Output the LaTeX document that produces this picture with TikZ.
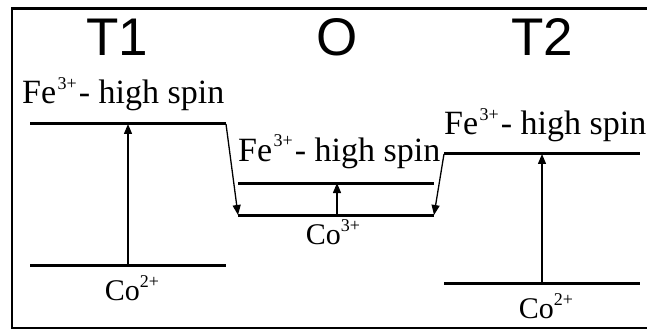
\documentclass[tikz,border=0pt]{standalone}
\usepackage{fontspec}
\setmainfont{Liberation Serif}
\newfontfamily\titlefont{Liberation Sans}
\usetikzlibrary{arrows.meta}
\newcommand{\supr}[1]{\raisebox{0.42em}{\fontsize{18}{18}\selectfont #1}}
\tikzset{
  level/.style={line width=3pt},
  trans/.style={line width=1.3pt,-{Triangle[length=10pt,width=8pt]}},
  title/.style={font=\titlefont\fontsize{53}{53}\selectfont,anchor=base,inner sep=0pt},
  felab/.style={font=\fontsize{34}{34}\selectfont,anchor=base west,inner sep=0pt},
  colab/.style={font=\fontsize{30}{30}\selectfont,anchor=base,inner sep=0pt}
}
\begin{document}
\begin{tikzpicture}[x=1pt,y=-1pt]
\useasboundingbox (0,0) rectangle (647,331);
\fill[white] (0,0) rectangle (647,331);
\draw[line width=2.5pt] (660,8.5) -- (12,8.5) -- (12,328) -- (660,328);
% titles
\node[title] (t1) at (117,56) {T1};
\node[title] (o) at (337,56) {O};
\node[title] (t2) at (542,56) {T2};
% levels
\coordinate (a1) at (30,124); \coordinate (a2) at (226,124);
\coordinate (b1) at (30,265); \coordinate (b2) at (226,265);
\coordinate (c1) at (238,183); \coordinate (c2) at (434,183);
\coordinate (d1) at (238,215); \coordinate (d2) at (434,215);
\coordinate (e1) at (444,154); \coordinate (e2) at (640,154);
\coordinate (f1) at (444,283); \coordinate (f2) at (640,283);
\draw[level] (a1) -- (a2);
\draw[level] (b1) -- (b2);
\draw[level] (c1) -- (c2);
\draw[level] (d1) -- (d2);
\draw[level] (e1) -- (e2);
\draw[level] (f1) -- (f2);
% transition points
\coordinate (ab0) at (128,265); \coordinate (ab1) at (128,124);
\coordinate (cd0) at (337,215); \coordinate (cd1) at (337,183);
\coordinate (ef0) at (542,283); \coordinate (ef1) at (542,154);
\draw[trans] (ab0) -- (ab1);
\draw[trans] (cd0) -- (cd1);
\draw[trans] (ef0) -- (ef1);
\draw[trans] (a2) -- (d1);
\draw[trans] (e1) -- (d2);
% labels
\node[felab] (fe1) at (22,104) {Fe\kern1.5pt\supr{3+}\kern2pt- high spin};
\node[felab] (fe2) at (238,161) {Fe\kern1.5pt\supr{3+}\kern2pt- high spin};
\node[felab] (fe3) at (444,135) {Fe\kern1.5pt\supr{3+}\kern2pt- high spin};
\node[colab] (co1) at (132,300) {Co\supr{2+}};
\node[colab] (co2) at (333,244) {Co\supr{3+}};
\node[colab] (co3) at (546,318) {Co\supr{2+}};
\end{tikzpicture}
\end{document}
